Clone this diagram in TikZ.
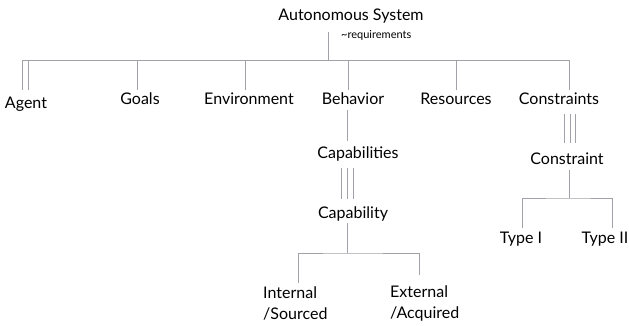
\documentclass[tikz,border=0pt]{standalone}
\usepackage{fontspec}
\setmainfont{Lato}
\begin{document}
\begin{tikzpicture}[x=1pt,y=-1pt,
  lbl/.style={font=\fontsize{16}{18}\selectfont, inner sep=0pt, text=black},
  conn/.style={draw=black!35!blue!5!gray!70, line width=0.9pt}]
\useasboundingbox (0,0) rectangle (629,325);
% nodes
\node[lbl] (as) at (351,16) {Autonomous System};
\node[lbl, font=\fontsize{11}{12}\selectfont, anchor=west] (req) at (341,35) {\textasciitilde requirements};
\node[lbl] (agent) at (26,104) {Agent};
\node[lbl] (goals) at (140,99) {Goals};
\node[lbl] (env) at (249,99) {Environment};
\node[lbl] (beh) at (353,99) {Behavior};
\node[lbl] (res) at (456,99) {Resources};
\node[lbl] (cons) at (559,99) {Constraints};
\node[lbl] (caps) at (358,154) {Capabilities};
\node[lbl] (cap) at (353,214) {Capability};
\node[lbl, align=left, anchor=west, font=\fontsize{16}{21}\selectfont] (int) at (263,303) {Internal\\/Sourced};
\node[lbl, align=left, anchor=west, font=\fontsize{16}{21}\selectfont] (ext) at (390,303) {External\\/Acquired};
\node[lbl] (con) at (567,159) {Constraint};
\node[lbl] (t1) at (521,239) {Type I};
\node[lbl] (t2) at (605,239) {Type II};
% junction coordinates
\coordinate (top) at (328,32);
\coordinate (bar) at (328,60);
\coordinate (capj) at (347,253);
\coordinate (conj) at (569,198);
% top tree
\draw[conn] (top) -- (bar);
\draw[conn] (22.7,90) |- (569,60) -- (569,90);
\draw[conn] (28,60) -- (28,90);
\draw[conn] (137,60) -- (137,90);
\draw[conn] (245,60) -- (245,90);
\draw[conn] (348,60) -- (348,90);
\draw[conn] (456,60) -- (456,90);
% behavior -> capabilities
\draw[conn] (347,110) -- (347,141);
\draw[conn] (341,168) -- (341,199) (347,168) -- (347,199) (353,168) -- (353,199);
\draw[conn] (347,223) -- (capj);
\draw[conn] (298,283) |- (capj) -| (419,275);
% constraints
\draw[conn] (564,114) -- (564,143) (570,114) -- (570,143) (575,114) -- (575,143);
\draw[conn] (569,170) -- (conj);
\draw[conn] (522,228) |- (conj) -| (612,228);
\end{tikzpicture}
\end{document}
